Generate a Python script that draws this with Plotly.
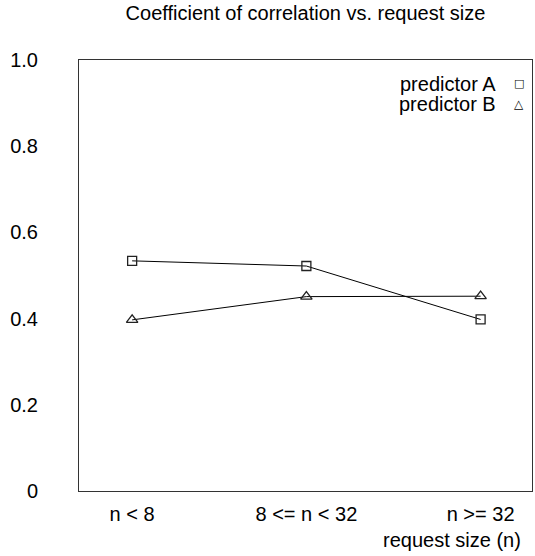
import plotly.graph_objects as go

categories = ["n < 8", "8 <= n < 32", "n >= 32"]
predictor_a = [0.534, 0.522, 0.398]
predictor_b = [0.397, 0.451, 0.452]
y_ticks = [0, 0.2, 0.4, 0.6, 0.8, 1.0]
y_tick_labels = ["0", "0.2", "0.4", "0.6", "0.8", "1.0"]

FONT = "Liberation Sans, Arial, Helvetica, sans-serif"
FS = 20
x_idx = list(range(len(categories)))

fig = go.Figure()
fig.add_trace(go.Scatter(
    x=x_idx, y=predictor_a, mode="lines+markers", name="predictor A",
    line=dict(color="black", width=1),
    marker=dict(symbol="square-open", size=9, color="#222", line=dict(width=1.3)),
    showlegend=False,
))
fig.add_trace(go.Scatter(
    x=x_idx, y=predictor_b, mode="lines+markers", name="predictor B",
    line=dict(color="black", width=1),
    marker=dict(symbol="triangle-up-open", size=10, color="#222", line=dict(width=1.3)),
    showlegend=False,
))

fig.update_layout(
    width=535, height=556,
    margin=dict(l=79, r=3, t=60, b=65),
    paper_bgcolor="white", plot_bgcolor="white",
    font=dict(family=FONT, size=FS, color="black"),
    title=dict(text="Coefficient of correlation vs. request size",
               x=0.5, xref="paper", xanchor="center",
               y=1 - 13 / 556, yref="container", yanchor="middle",
               font=dict(family=FONT, size=FS, color="black")),
    xaxis=dict(range=[-0.305, 2.295], tickmode="array", tickvals=x_idx,
               ticktext=categories, showgrid=False, zeroline=False,
               showline=True, linecolor="#333", linewidth=1, mirror=True,
               ticks="", ticklabelstandoff=5),
    yaxis=dict(range=[0, 1], tickmode="array", tickvals=y_ticks,
               ticktext=y_tick_labels, showgrid=False, zeroline=False,
               showline=True, linecolor="#333", linewidth=1, mirror=True,
               ticks="", ticklabelstandoff=36),
    showlegend=False,
)

# key (text left, sample symbol right, gnuplot style)
fig.add_annotation(text="predictor A", xref="paper", yref="paper",
                   x=0.925, y=0.945, xanchor="right", yanchor="middle",
                   showarrow=False, font=dict(family=FONT, size=FS, color="black"))
fig.add_annotation(text="predictor B", xref="paper", yref="paper",
                   x=0.925, y=0.899, xanchor="right", yanchor="middle",
                   showarrow=False, font=dict(family=FONT, size=FS, color="black"))
fig.add_annotation(text="□", xref="paper", yref="paper",
                   x=0.972, y=0.945, xanchor="center", yanchor="middle",
                   showarrow=False, font=dict(family="DejaVu Sans", size=11, color="black"))
fig.add_annotation(text="△", xref="paper", yref="paper",
                   x=0.972, y=0.899, xanchor="center", yanchor="middle",
                   showarrow=False, font=dict(family="DejaVu Sans", size=12, color="black"))

# x axis title, right aligned under the axis
fig.add_annotation(text="request size (n)", xref="paper", yref="paper",
                   x=(523 - 79) / 453, y=-(540 - 491) / 431, xanchor="right",
                   yanchor="middle", showarrow=False,
                   font=dict(family=FONT, size=FS, color="black"))

fig.write_html("out.html")
